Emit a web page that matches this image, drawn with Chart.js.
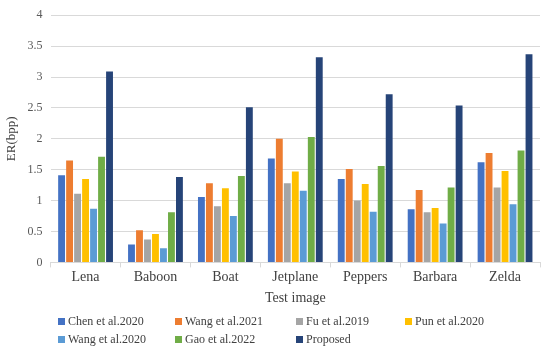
<!DOCTYPE html>
<html>
<head>
<meta charset="utf-8">
<script src="https://cdn.jsdelivr.net/npm/chart.js@4/dist/chart.umd.min.js"></script>
<style>
  body { margin: 0; background: #fff; }
</style>
</head>
<body>
<canvas id="erChart" width="550" height="353"></canvas>
<script>
const images = ["Lena", "Baboon", "Boat", "Jetplane", "Peppers", "Barbara", "Zelda"];
const chen2020 = [1.41, 0.29, 1.06, 1.68, 1.35, 0.86, 1.62];
const wang2021 = [1.65, 0.52, 1.28, 2.00, 1.51, 1.17, 1.77];
const fu2019 = [1.11, 0.37, 0.91, 1.28, 1.00, 0.81, 1.21];
const pun2020 = [1.35, 0.46, 1.20, 1.47, 1.27, 0.88, 1.48];
const wang2020 = [0.87, 0.23, 0.75, 1.16, 0.82, 0.63, 0.94];
const gao2022 = [1.71, 0.81, 1.40, 2.03, 1.56, 1.21, 1.81];
const proposed = [3.09, 1.38, 2.51, 3.32, 2.72, 2.54, 3.37];

const series = [
  { label: "Chen et al.2020", data: chen2020, color: "#4472C4" },
  { label: "Wang et al.2021", data: wang2021, color: "#ED7D31" },
  { label: "Fu et al.2019", data: fu2019, color: "#A5A5A5" },
  { label: "Pun et al.2020", data: pun2020, color: "#FFC000" },
  { label: "Wang et al.2020", data: wang2020, color: "#5B9BD5" },
  { label: "Gao et al.2022", data: gao2022, color: "#70AD47" },
  { label: "Proposed", data: proposed, color: "#264478" }
];

const serif = "'Liberation Serif', 'Times New Roman', serif";

// legend laid out as a 4-column grid like the original
const gridLegend = {
  id: "gridLegend",
  afterDraw(chart) {
    const c = chart.ctx;
    const cols = [58, 175, 296, 405];
    const rows = [322, 340];
    c.save();
    c.font = "12px " + serif;
    c.fillStyle = "#404040";
    c.textBaseline = "middle";
    chart.data.datasets.forEach((ds, i) => {
      const x = cols[i % 4];
      const y = rows[Math.floor(i / 4)];
      c.fillStyle = ds.backgroundColor;
      c.fillRect(x, y - 4, 7, 7);
      c.fillStyle = "#404040";
      c.fillText(ds.label, x + 10, y);
    });
    c.restore();
  }
};

const ctx = document.getElementById("erChart").getContext("2d");
new Chart(ctx, {
  type: "bar",
  data: {
    labels: images,
    datasets: series.map((s) => ({
      label: s.label,
      data: s.data,
      backgroundColor: s.color,
      categoryPercentage: 0.8,
      barPercentage: 0.86
    }))
  },
  options: {
    responsive: false,
    animation: false,
    layout: { padding: { left: 4, right: 10, top: 2, bottom: 42 } },
    plugins: { legend: { display: false }, tooltip: { enabled: false } },
    scales: {
      x: {
        grid: { offset: true, drawOnChartArea: false, color: "#d9d9d9", tickLength: 5 },
        border: { color: "#d9d9d9" },
        ticks: { color: "#404040", font: { family: serif, size: 14 }, padding: 2 },
        title: { display: true, text: "Test image", color: "#404040", font: { family: serif, size: 14 }, padding: { top: 2 } }
      },
      y: {
        min: 0,
        max: 4,
        ticks: { stepSize: 0.5, color: "#595959", font: { family: serif, size: 12 }, padding: 8,
                 callback: (v) => String(v) },
        grid: { color: "#d9d9d9", drawTicks: false },
        border: { display: false },
        title: { display: true, text: "ER(bpp)", color: "#404040", font: { family: serif, size: 13 }, padding: 0 }
      }
    }
  },
  plugins: [gridLegend]
});
</script>
</body>
</html>
